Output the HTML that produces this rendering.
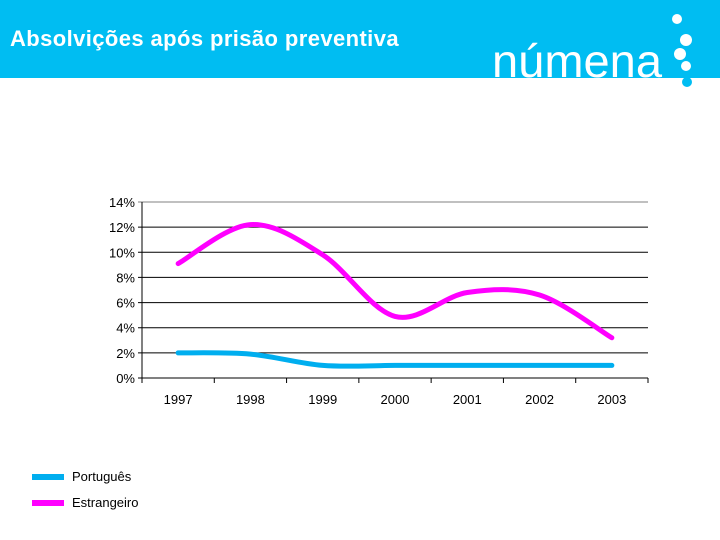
<!DOCTYPE html>
<html><head><meta charset="utf-8"><style>
body{margin:0;width:720px;height:540px;background:#fff;font-family:"Liberation Sans",sans-serif;overflow:hidden;position:relative}
#hdr{position:absolute;left:0;top:0;width:720px;height:78px;background:#00bdf2}
#title{position:absolute;left:10px;top:26px;color:#fff;font-weight:bold;font-size:22px;letter-spacing:0.4px}
</style></head><body>
<div id="hdr"></div>
<div id="title">Absolvições após prisão preventiva</div>
<svg width="720" height="540" style="position:absolute;left:0;top:0">
<g>
<text x="492" y="77" fill="#fff" font-size="46" font-family="Liberation Sans" textLength="170" lengthAdjust="spacingAndGlyphs">númena</text>
<circle cx="677" cy="19" r="5" fill="#fff"/>
<circle cx="686" cy="40" r="6" fill="#fff"/>
<circle cx="680" cy="54" r="6" fill="#fff"/>
<circle cx="686" cy="66" r="5" fill="#fff"/>
<circle cx="687" cy="82" r="5" fill="#00bdf2"/>
</g>
<g id="plot"></g>
<g>
<line x1="32" y1="477" x2="64" y2="477" stroke="#00aeef" stroke-width="6"/>
<text x="72" y="481" font-size="13">Português</text>
<line x1="32" y1="503" x2="64" y2="503" stroke="#ff00ff" stroke-width="6"/>
<text x="72" y="507" font-size="13">Estrangeiro</text>
</g>
</svg>
<script>
const categories=["1997","1998","1999","2000","2001","2002","2003"];
const portugues=[2.0,1.9,1.0,1.0,1.0,1.0,1.0];
const estrangeiro=[9.1,12.2,9.8,4.9,6.8,6.6,3.2];
const yTicks=[0,2,4,6,8,10,12,14];
const X0=142,X1=648,Y0=378,Y1=202,YMAX=14;
const bw=(X1-X0)/categories.length;
const xs=i=>X0+bw*(i+0.5);
const ys=v=>Y0-(v/YMAX)*(Y0-Y1);
const g=document.getElementById('plot');
const NS='http://www.w3.org/2000/svg';
function mk(t,a){const e=document.createElementNS(NS,t);for(const k in a)e.setAttribute(k,a[k]);g.appendChild(e);return e;}
yTicks.forEach(t=>{
 const y=ys(t);
 const l=mk('line',{x1:X0-4,x2:X1,y1:y,y2:y,stroke:t===14?'#808080':'#000','stroke-width':1});
 
 
 const tx=mk('text',{x:X0-7,y:y+5,'font-size':13,'text-anchor':'end'});
 tx.textContent=t+'%';
 
 
});
const ax=mk('line',{x1:X0,x2:X0,y1:Y1,y2:Y0+4,stroke:'#000'});


for(let i=0;i<=categories.length;i++){
 const x=X0+bw*i;
 const t=mk('line',{x1:x,x2:x,y1:Y0,y2:Y0+5,stroke:'#000'});
 
 
}
categories.forEach((c,i)=>{
 const t=mk('text',{x:xs(i),y:Y0+26,'font-size':13,'text-anchor':'middle'});
 t.textContent=c;
 
 
});
function path(vals){
 const p=vals.map((v,i)=>[xs(i),ys(v)]);
 let d='M'+p[0][0]+','+p[0][1];
 for(let i=0;i<p.length-1;i++){
  const a=p[Math.max(0,i-1)],b=p[i],c=p[i+1],e=p[Math.min(p.length-1,i+2)];
  const c1=[b[0]+(c[0]-a[0])/6,b[1]+(c[1]-a[1])/6],c2=[c[0]-(e[0]-b[0])/6,c[1]-(e[1]-b[1])/6];
  d+=' C'+c1+' '+c2+' '+c;
 }
 return d;
}
const s1=mk('path',{d:path(portugues),fill:'none',stroke:'#00aeef','stroke-width':5,'stroke-linecap':'round'});


const s2=mk('path',{d:path(estrangeiro),fill:'none',stroke:'#ff00ff','stroke-width':5,'stroke-linecap':'round'});


</script>
</body></html>
